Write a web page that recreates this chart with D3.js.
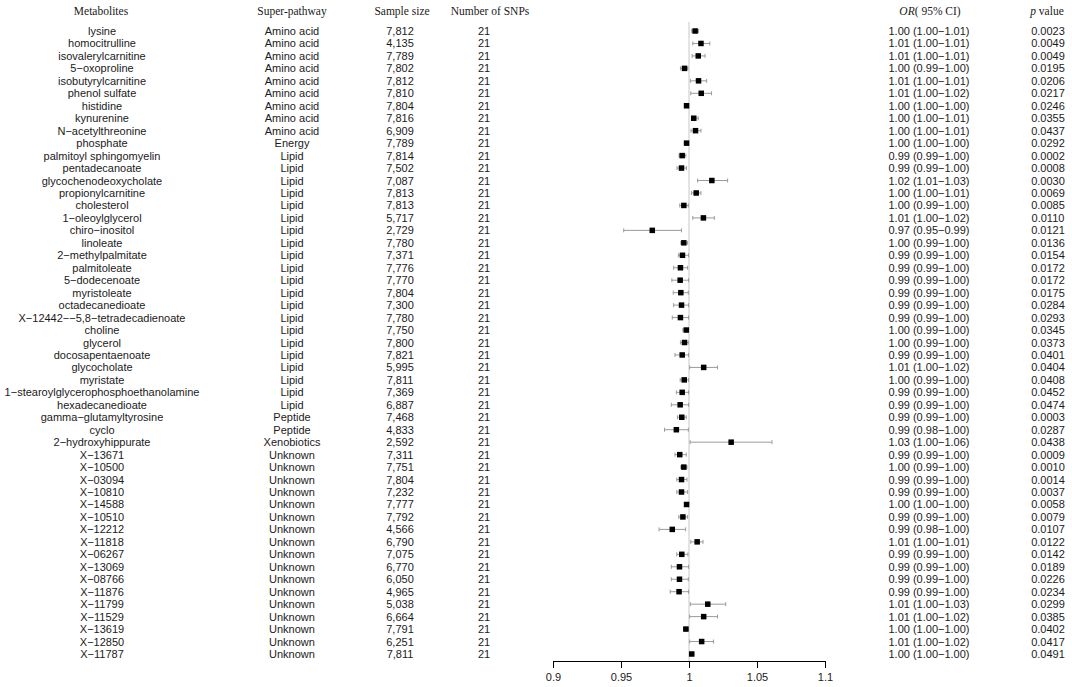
<!DOCTYPE html>
<html>
<head>
<meta charset="utf-8">
<script src="https://cdn.jsdelivr.net/npm/d3@7"></script>
<style>
  body { margin: 0; background: #fff; }
  svg text { fill: #1a1a1a; }
  .cell { font-family: "Liberation Sans", Arial, sans-serif; font-size: 11px; }
  .head { font-family: "Liberation Serif", "Times New Roman", serif; font-size: 11.5px; }
</style>
</head>
<body>
<div id="chart"></div>
<script>
var metabolites = ["lysine", "homocitrulline", "isovalerylcarnitine", "5−oxoproline", "isobutyrylcarnitine",
  "phenol sulfate", "histidine", "kynurenine", "N−acetylthreonine", "phosphate",
  "palmitoyl sphingomyelin", "pentadecanoate", "glycochenodeoxycholate", "propionylcarnitine", "cholesterol",
  "1−oleoylglycerol", "chiro−inositol", "linoleate", "2−methylpalmitate", "palmitoleate",
  "5−dodecenoate", "myristoleate", "octadecanedioate", "X−12442−−5,8−tetradecadienoate", "choline",
  "glycerol", "docosapentaenoate", "glycocholate", "myristate", "1−stearoylglycerophosphoethanolamine",
  "hexadecanedioate", "gamma−glutamyltyrosine", "cyclo", "2−hydroxyhippurate", "X−13671",
  "X−10500", "X−03094", "X−10810", "X−14588", "X−10510",
  "X−12212", "X−11818", "X−06267", "X−13069", "X−08766",
  "X−11876", "X−11799", "X−11529", "X−13619", "X−12850", "X−11787"];

var pathways = ["Amino acid", "Amino acid", "Amino acid", "Amino acid", "Amino acid",
  "Amino acid", "Amino acid", "Amino acid", "Amino acid", "Energy",
  "Lipid", "Lipid", "Lipid", "Lipid", "Lipid", "Lipid", "Lipid", "Lipid", "Lipid", "Lipid",
  "Lipid", "Lipid", "Lipid", "Lipid", "Lipid", "Lipid", "Lipid", "Lipid", "Lipid", "Lipid",
  "Lipid", "Peptide", "Peptide", "Xenobiotics", "Unknown",
  "Unknown", "Unknown", "Unknown", "Unknown", "Unknown",
  "Unknown", "Unknown", "Unknown", "Unknown", "Unknown",
  "Unknown", "Unknown", "Unknown", "Unknown", "Unknown", "Unknown"];

var sampleSizes = ["7,812", "4,135", "7,789", "7,802", "7,812", "7,810", "7,804", "7,816", "6,909", "7,789",
  "7,814", "7,502", "7,087", "7,813", "7,813", "5,717", "2,729", "7,780", "7,371", "7,776",
  "7,770", "7,804", "7,300", "7,780", "7,750", "7,800", "7,821", "5,995", "7,811", "7,369",
  "6,887", "7,468", "4,833", "2,592", "7,311", "7,751", "7,804", "7,232", "7,777", "7,792",
  "4,566", "6,790", "7,075", "6,770", "6,050", "4,965", "5,038", "6,664", "7,791", "6,251", "7,811"];

var snpCounts = metabolites.map(function() { return "21"; });

var orValues = [1.0045, 1.0088, 1.0068, 0.9967, 1.0070, 1.0090, 0.9982, 1.0035, 1.0048, 0.9982,
  0.9950, 0.9945, 1.0168, 1.0053, 0.9962, 1.0106, 0.9730, 0.9962, 0.9952, 0.9937,
  0.9935, 0.9940, 0.9945, 0.9937, 0.9980, 0.9967, 0.9950, 1.0108, 0.9965, 0.9950,
  0.9935, 0.9947, 0.9907, 1.0310, 0.9932, 0.9962, 0.9945, 0.9945, 0.9982, 0.9955,
  0.9877, 1.0060, 0.9947, 0.9930, 0.9930, 0.9927, 1.0138, 1.0108, 0.9977, 1.0093, 1.0020];

var ciLow = [1.0020, 1.0028, 1.0023, 0.9937, 1.0010, 1.0013, 0.9972, 1.0018, 1.0015, 0.9970,
  0.9927, 0.9912, 1.0063, 1.0018, 0.9932, 1.0028, 0.9520, 0.9940, 0.9922, 0.9887,
  0.9874, 0.9884, 0.9887, 0.9877, 0.9955, 0.9937, 0.9897, 1.0005, 0.9935, 0.9907,
  0.9870, 0.9915, 0.9820, 1.0008, 0.9897, 0.9940, 0.9910, 0.9910, 0.9975, 0.9925,
  0.9780, 1.0013, 0.9910, 0.9870, 0.9870, 0.9862, 1.0010, 1.0005, 0.9960, 1.0005, 1.0008];

var ciHigh = [1.0070, 1.0153, 1.0118, 0.9992, 1.0130, 1.0166, 0.9995, 1.0068, 1.0088, 0.9997,
  0.9977, 0.9982, 1.0284, 1.0088, 0.9995, 1.0186, 0.9945, 0.9990, 0.9997, 0.9990,
  0.9997, 0.9995, 0.9997, 0.9997, 0.9997, 0.9995, 0.9997, 1.0209, 0.9997, 0.9997,
  0.9997, 0.9980, 0.9995, 1.0610, 0.9980, 0.9985, 0.9985, 0.9990, 0.9995, 0.9990,
  0.9975, 1.0103, 0.9992, 0.9997, 0.9995, 0.9997, 1.0270, 1.0210, 0.9995, 1.0180, 1.0035];

var orLabels = ["1.00 (1.00−1.01)", "1.01 (1.00−1.01)", "1.01 (1.00−1.01)", "1.00 (0.99−1.00)", "1.01 (1.00−1.01)",
  "1.01 (1.00−1.02)", "1.00 (1.00−1.00)", "1.00 (1.00−1.01)", "1.00 (1.00−1.01)", "1.00 (1.00−1.00)",
  "0.99 (0.99−1.00)", "0.99 (0.99−1.00)", "1.02 (1.01−1.03)", "1.00 (1.00−1.01)", "1.00 (0.99−1.00)",
  "1.01 (1.00−1.02)", "0.97 (0.95−0.99)", "1.00 (0.99−1.00)", "0.99 (0.99−1.00)", "0.99 (0.99−1.00)",
  "0.99 (0.99−1.00)", "0.99 (0.99−1.00)", "0.99 (0.99−1.00)", "0.99 (0.99−1.00)", "1.00 (0.99−1.00)",
  "1.00 (0.99−1.00)", "0.99 (0.99−1.00)", "1.01 (1.00−1.02)", "1.00 (0.99−1.00)", "0.99 (0.99−1.00)",
  "0.99 (0.99−1.00)", "0.99 (0.99−1.00)", "0.99 (0.98−1.00)", "1.03 (1.00−1.06)", "0.99 (0.99−1.00)",
  "1.00 (0.99−1.00)", "0.99 (0.99−1.00)", "0.99 (0.99−1.00)", "1.00 (1.00−1.00)", "0.99 (0.99−1.00)",
  "0.99 (0.98−1.00)", "1.01 (1.00−1.01)", "0.99 (0.99−1.00)", "0.99 (0.99−1.00)", "0.99 (0.99−1.00)",
  "0.99 (0.99−1.00)", "1.01 (1.00−1.03)", "1.01 (1.00−1.02)", "1.00 (1.00−1.00)", "1.01 (1.00−1.02)",
  "1.00 (1.00−1.00)"];

var pValues = ["0.0023", "0.0049", "0.0049", "0.0195", "0.0206", "0.0217", "0.0246", "0.0355", "0.0437", "0.0292",
  "0.0002", "0.0008", "0.0030", "0.0069", "0.0085", "0.0110", "0.0121", "0.0136", "0.0154", "0.0172",
  "0.0172", "0.0175", "0.0284", "0.0293", "0.0345", "0.0373", "0.0401", "0.0404", "0.0408", "0.0452",
  "0.0474", "0.0003", "0.0287", "0.0438", "0.0009", "0.0010", "0.0014", "0.0037", "0.0058", "0.0079",
  "0.0107", "0.0122", "0.0142", "0.0189", "0.0226", "0.0234", "0.0299", "0.0385", "0.0402", "0.0417",
  "0.0491"];

var tickValues = [0.9, 0.95, 1, 1.05, 1.1];
var tickLabels = ["0.9", "0.95", "1", "1.05", "1.1"];

var width = 1072, height = 687;
var svg = d3.select("#chart").append("svg")
    .attr("width", width).attr("height", height);

var x = d3.scaleLinear().domain([0.9, 1.1]).range([553, 825]);
var y = d3.scaleLinear().domain([0, metabolites.length - 1]).range([31, 654]);
var axisY = 661;

// text columns: header centre (hx) and body centre (cx)
var columns = [
  { key: "Metabolites", hx: 101, cx: 102, vals: metabolites },
  { key: "Super-pathway", hx: 292, cx: 292, vals: pathways },
  { key: "Sample size", hx: 402, cx: 400, vals: sampleSizes },
  { key: "Number of SNPs", hx: 490, cx: 484, vals: snpCounts },
  { key: "OR", hx: 930, cx: 929, vals: orLabels },
  { key: "p", hx: 1047, cx: 1048, vals: pValues }
];

columns.forEach(function(col) {
  var h = svg.append("text").attr("class", "head")
      .attr("x", col.hx).attr("y", 15).attr("text-anchor", "middle");
  if (col.key === "OR") {
    h.append("tspan").attr("font-style", "italic").text("OR");
    h.append("tspan").text("( 95% CI)");
  } else if (col.key === "p") {
    h.append("tspan").attr("font-style", "italic").text("p");
    h.append("tspan").text(" value");
  } else {
    h.text(col.key);
  }

  svg.append("g").selectAll("text").data(col.vals).join("text")
      .attr("class", "cell")
      .attr("x", col.cx)
      .attr("y", function(d, i) { return y(i) + 4; })
      .attr("text-anchor", "middle")
      .text(function(d) { return d; });
});

// reference line at OR = 1
svg.append("line")
    .attr("x1", x(1)).attr("x2", x(1))
    .attr("y1", 22).attr("y2", axisY)
    .attr("stroke", "#c8c8c8").attr("stroke-width", 1);

var rows = metabolites.map(function(m, i) {
  return { i: i, or: orValues[i], lo: ciLow[i], hi: ciHigh[i] };
});

var ci = svg.append("g").attr("stroke", "#9a9a9a").attr("stroke-width", 1);
ci.selectAll(".ci").data(rows).join("line")
    .attr("x1", function(d) { return x(d.lo); })
    .attr("x2", function(d) { return x(d.hi); })
    .attr("y1", function(d) { return y(d.i); })
    .attr("y2", function(d) { return y(d.i); });
ci.selectAll(".capL").data(rows).join("line")
    .attr("x1", function(d) { return x(d.lo); })
    .attr("x2", function(d) { return x(d.lo); })
    .attr("y1", function(d) { return y(d.i) - 2; })
    .attr("y2", function(d) { return y(d.i) + 2; });
ci.selectAll(".capR").data(rows).join("line")
    .attr("x1", function(d) { return x(d.hi); })
    .attr("x2", function(d) { return x(d.hi); })
    .attr("y1", function(d) { return y(d.i) - 2; })
    .attr("y2", function(d) { return y(d.i) + 2; });

var sq = 5.5;
svg.append("g").selectAll("rect").data(rows).join("rect")
    .attr("x", function(d) { return x(d.or) - sq / 2; })
    .attr("y", function(d) { return y(d.i) - sq / 2; })
    .attr("width", sq).attr("height", sq)
    .attr("fill", "#000");

// x axis
var axis = d3.axisBottom(x)
    .tickValues(tickValues)
    .tickFormat(function(d, i) { return tickLabels[i]; })
    .tickSize(7).tickPadding(5).tickSizeOuter(0);

var gx = svg.append("g").attr("transform", "translate(0," + axisY + ")").call(axis);
gx.select(".domain").attr("stroke", "#000");
gx.selectAll(".tick line").attr("stroke", "#000");
gx.selectAll(".tick text")
    .attr("font-family", "Liberation Sans, Arial, sans-serif")
    .attr("font-size", 11)
    .attr("fill", "#1a1a1a");
</script>
</body>
</html>
